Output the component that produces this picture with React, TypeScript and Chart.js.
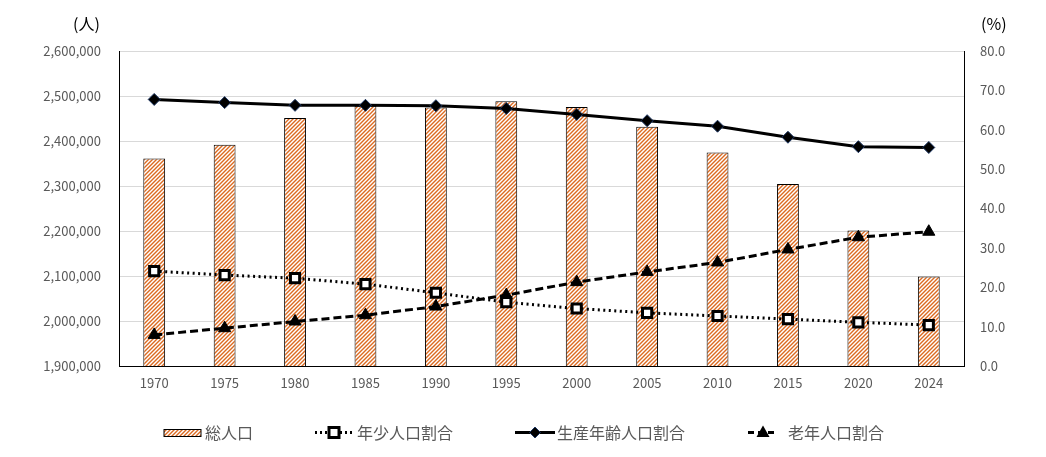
import React, { useEffect, useRef } from "react";
import { Chart, registerables } from "chart.js";

Chart.register(...registerables);

const categories = ["1970", "1975", "1980", "1985", "1990", "1995", "2000", "2005", "2010", "2015", "2020", "2024"];
const totalPopulation = [2360982, 2391938, 2451357, 2478470, 2474583, 2488364, 2475733, 2431459, 2374450, 2304264, 2201272, 2099000];
const youngRatio = [24.1, 23.1, 22.3, 20.8, 18.6, 16.2, 14.6, 13.5, 12.7, 11.9, 11.1, 10.4];
const workingRatio = [67.7, 66.9, 66.2, 66.2, 66.1, 65.4, 63.9, 62.3, 60.9, 58.1, 55.7, 55.5];
const elderlyRatio = [7.9, 9.6, 11.3, 12.9, 15.1, 18.0, 21.3, 23.9, 26.3, 29.6, 32.7, 34.1];
const legendLabels = ["総人口", "年少人口割合", "生産年齢人口割合", "老年人口割合"];
const leftUnit = "(人)";
const rightUnit = "(%)";

const FONT = "'Noto Sans CJK JP', 'Noto Sans', sans-serif";
const GRAY = "#595959";

function makePattern(): CanvasPattern | string {
  const c = document.createElement("canvas");
  c.width = 4;
  c.height = 4;
  const g = c.getContext("2d");
  if (!g) return "#f4b183";
  g.fillStyle = "#ffffff";
  g.fillRect(0, 0, 4, 4);
  g.strokeStyle = "#dc6a20";
  g.lineWidth = 1.4;
  g.beginPath();
  g.moveTo(0, 4);
  g.lineTo(4, 0);
  g.moveTo(-1, 1);
  g.lineTo(1, -1);
  g.moveTo(3, 5);
  g.lineTo(5, 3);
  g.stroke();
  const p = g.createPattern(c, "repeat");
  return p || "#f4b183";
}

export default function App() {
  const ref = useRef<HTMLCanvasElement | null>(null);

  useEffect(() => {
    document.body.style.margin = "0";
    const canvas = ref.current;
    if (!canvas) return;
    const pattern = makePattern();

    const overlay = {
      id: "overlay",
      afterDraw(chart: any) {
        const ctx: CanvasRenderingContext2D = chart.ctx;
        ctx.save();
        // units
        ctx.fillStyle = "#000";
        ctx.font = `16px ${FONT}`;
        ctx.textBaseline = "middle";
        ctx.textAlign = "left";
        ctx.fillText(leftUnit, 73, 24);
        ctx.fillText(rightUnit, 981, 24);

        const ly = 432.5;
        // legend: bar swatch
        ctx.fillStyle = pattern as any;
        ctx.fillRect(164, 429.5, 37, 7);
        ctx.strokeStyle = "#000";
        ctx.lineWidth = 1;
        ctx.strokeRect(164, 429.5, 37, 7);

        // young: dotted + square
        ctx.lineWidth = 3;
        ctx.setLineDash([2, 3]);
        ctx.beginPath();
        ctx.moveTo(315, ly);
        ctx.lineTo(352, ly);
        ctx.stroke();
        ctx.setLineDash([]);
        ctx.fillStyle = "#fff";
        ctx.fillRect(329, ly - 5, 10, 10);
        ctx.strokeRect(329, ly - 5, 10, 10);

        // working: solid + diamond
        ctx.lineWidth = 3;
        ctx.beginPath();
        ctx.moveTo(515, ly);
        ctx.lineTo(555, ly);
        ctx.stroke();
        ctx.fillStyle = "#000";
        ctx.strokeStyle = "#1f3864";
        ctx.lineWidth = 1;
        ctx.beginPath();
        ctx.moveTo(535, ly - 5.5);
        ctx.lineTo(540.5, ly);
        ctx.lineTo(535, ly + 5.5);
        ctx.lineTo(529.5, ly);
        ctx.closePath();
        ctx.fill();
        ctx.stroke();

        // elderly: dashed + triangle
        ctx.strokeStyle = "#000";
        ctx.lineWidth = 3;
        ctx.setLineDash([6, 4]);
        ctx.beginPath();
        ctx.moveTo(748, ly);
        ctx.lineTo(778, ly);
        ctx.stroke();
        ctx.setLineDash([]);
        ctx.fillStyle = "#000";
        ctx.beginPath();
        ctx.moveTo(763, ly - 7);
        ctx.lineTo(769.5, ly + 4.5);
        ctx.lineTo(756.5, ly + 4.5);
        ctx.closePath();
        ctx.fill();

        // legend texts
        ctx.fillStyle = GRAY;
        ctx.font = `16px ${FONT}`;
        ctx.textBaseline = "middle";
        ctx.fillText(legendLabels[0], 205, ly);
        ctx.fillText(legendLabels[1], 357, ly);
        ctx.fillText(legendLabels[2], 557, ly);
        ctx.fillText(legendLabels[3], 788, ly);
        ctx.restore();
      },
    };

    const chart = new Chart(canvas, {
      type: "bar",
      data: {
        labels: categories,
        datasets: [
          {
            type: "bar",
            label: legendLabels[0],
            data: totalPopulation,
            yAxisID: "y",
            backgroundColor: pattern as any,
            borderColor: "#000",
            borderWidth: 1,
            barPercentage: 0.31,
            categoryPercentage: 1,
            order: 3,
          },
          {
            type: "line",
            label: legendLabels[1],
            data: youngRatio,
            yAxisID: "y1",
            borderColor: "#000",
            borderWidth: 3,
            borderDash: [2, 3.5],
            pointStyle: "rect",
            pointRadius: 6.5,
            pointBackgroundColor: "#fff",
            pointBorderColor: "#000",
            pointBorderWidth: 3,
            tension: 0,
            order: 0,
          },
          {
            type: "line",
            label: legendLabels[2],
            data: workingRatio,
            yAxisID: "y1",
            borderColor: "#000",
            borderWidth: 3,
            pointStyle: "rectRot",
            pointRadius: 6,
            pointBackgroundColor: "#000",
            pointBorderColor: "#1f3864",
            pointBorderWidth: 1,
            tension: 0,
            order: 2,
          },
          {
            type: "line",
            label: legendLabels[3],
            data: elderlyRatio,
            yAxisID: "y1",
            borderColor: "#000",
            borderWidth: 3,
            borderDash: [8, 4],
            pointStyle: "triangle",
            pointRadius: 7,
            pointBackgroundColor: "#000",
            pointBorderColor: "#000",
            pointBorderWidth: 1,
            tension: 0,
            order: 1,
          },
        ],
      },
      options: {
        animation: false,
        responsive: true,
        maintainAspectRatio: false,
        layout: { padding: { top: 51, bottom: 61, left: 0, right: 0 } },
        plugins: {
          legend: { display: false },
          tooltip: { enabled: false },
        },
        scales: {
          x: {
            offset: true,
            grid: { display: false, drawTicks: false },
            border: { display: true, color: "#000", width: 1 },
            ticks: { color: GRAY, font: { family: FONT, size: 13 }, padding: 9, maxRotation: 0 },
            afterFit: (s: any) => {
              s.height = 30;
            },
          },
          y: {
            position: "left",
            min: 1900000,
            max: 2600000,
            grid: { color: "#d9d9d9", lineWidth: 1, drawTicks: false },
            border: { display: true, color: "#000", width: 1 },
            ticks: {
              stepSize: 100000,
              color: GRAY,
              font: { family: FONT, size: 13 },
              padding: 18,
              callback: (v: any) => Number(v).toLocaleString("en-US"),
            },
            afterFit: (s: any) => {
              s.width = 119;
            },
          },
          y1: {
            position: "right",
            min: 0,
            max: 80,
            grid: { display: false, drawTicks: false },
            border: { display: true, color: "#000", width: 1 },
            ticks: {
              stepSize: 10,
              color: GRAY,
              font: { family: FONT, size: 13 },
              padding: 16,
              callback: (v: any) => Number(v).toFixed(1),
            },
            afterFit: (s: any) => {
              s.width = 82;
            },
          },
        },
      },
      plugins: [overlay],
    });

    return () => {
      chart.destroy();
    };
  }, []);

  return (
    <div style={{ position: "relative", width: "1046px", height: "457px" }}>
      <canvas ref={ref} />
    </div>
  );
}
